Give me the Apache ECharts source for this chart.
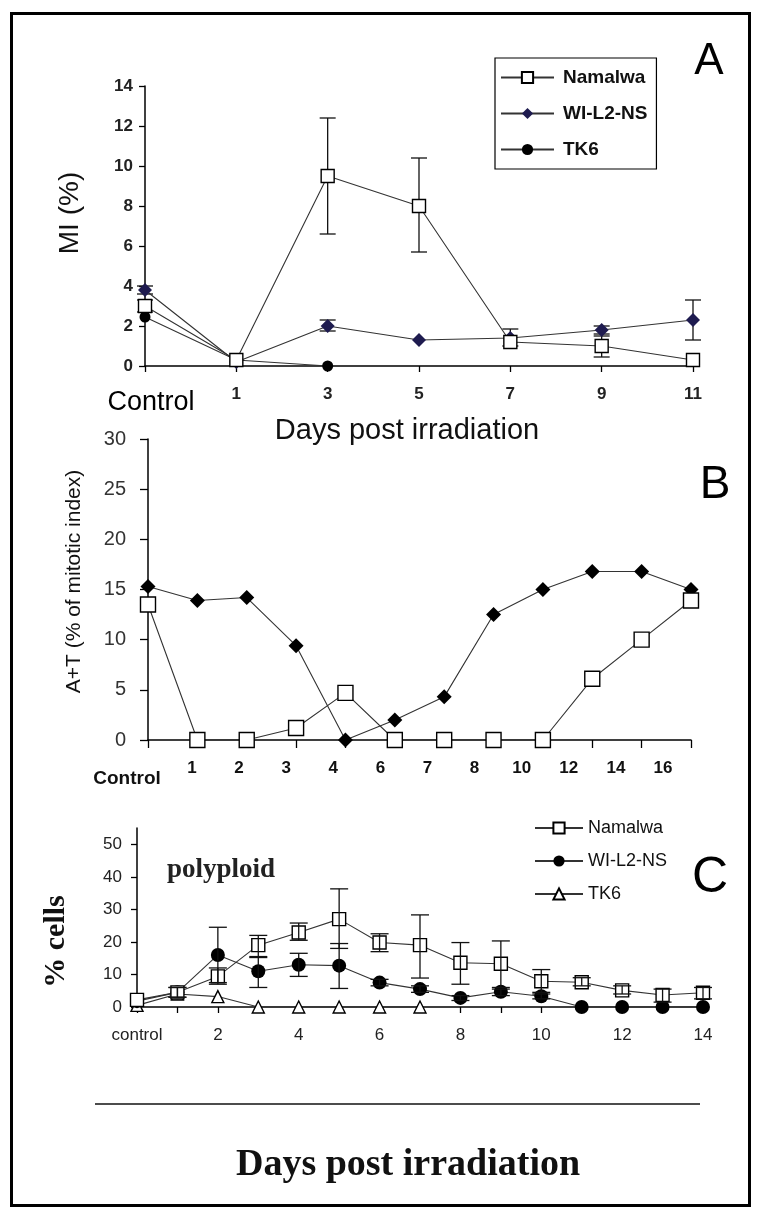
<!DOCTYPE html>
<html>
<head>
<meta charset="utf-8">
<script src="https://cdn.jsdelivr.net/npm/echarts@6/dist/echarts.min.js"></script>
<style>
html,body{margin:0;padding:0;background:#fff;}
#chart{width:761px;height:1219px;}
</style>
</head>
<body>
<div id="chart"></div>
<script>
// ---------- Panel A: mitotic index ----------
const daysA = ['Control', '1', '3', '5', '7', '9', '11'];
const namalwaA = [3.0, 0.3, 9.5, 8.0, 1.2, 1.0, 0.3];
const namalwaA_lo = [2.7, null, 6.6, 5.7, 1.0, 0.45, null];
const namalwaA_hi = [3.3, null, 12.4, 10.4, 1.85, 1.6, null];
const wiA = [3.8, 0.2, 2.0, 1.3, 1.4, 1.8, 2.3];
const wiA_lo = [3.6, null, 1.75, null, null, 1.5, 1.3];
const wiA_hi = [4.0, null, 2.3, null, null, 2.0, 3.3];
const tk6A = [2.45, 0.3, 0.0, null, null, null, null];

// ---------- Panel B: A+T ----------
const daysB = ['Control', '1', '2', '3', '4', '6', '7', '8', '10', '12', '14', '16'];
const wiB = [15.3, 13.9, 14.2, 9.4, 0, 2.0, 4.3, 12.5, 15.0, 16.8, 16.8, 15.0];
const namalwaB = [13.5, 0, 0, 1.2, 4.7, 0, 0, 0, 0, 6.1, 10.0, 13.9];

// ---------- Panel C: polyploid ----------
const daysC = ['control', '1', '2', '3', '4', '5', '6', '7', '8', '9', '10', '11', '12', '13', '14'];
const namalwaC = [2.2, 4.5, 9.4, 19.0, 22.9, 27.0, 19.8, 19.0, 13.6, 13.3, 7.9, 7.6, 5.1, 3.7, 4.4];
const namalwaC_lo = [null, 3.0, 7.0, 15.2, 20.5, 18.0, 17.0, 8.9, 7.0, 6.0, 4.5, 6.5, 4.0, 1.5, 2.5];
const namalwaC_hi = [null, 6.0, 12.0, 22.0, 25.8, 36.3, 22.5, 28.3, 19.8, 20.3, 11.5, 9.0, 6.5, 5.5, 6.0];
const wiC = [1.8, 4.5, 16.0, 11.0, 13.0, 12.7, 7.5, 5.5, 2.8, 4.7, 3.3, 0, 0, 0, 0];
const wiC_lo = [null, 3.0, 7.5, 6.0, 9.4, 5.7, 6.5, 4.5, 2.0, 3.5, 2.5, null, null, null, null];
const wiC_hi = [null, 6.0, 24.5, 15.5, 16.5, 19.5, 8.5, 6.5, 3.5, 5.5, 4.0, null, null, null, null];
const tk6C = [0.5, 4.0, 3.2, 0, 0, 0, 0, 0, null, null, null, null, null, null, null];

const SANS = 'Liberation Sans, Arial, sans-serif';
const SERIF = 'Liberation Serif, Times New Roman, serif';

function errData(lo, hi) {
  const out = [];
  lo.forEach((v, i) => { if (v != null && hi[i] != null) out.push([i, v, hi[i]]); });
  return out;
}
function errSeries(lo, hi, xi, yi, cap, z) {
  return {
    type: 'custom', xAxisIndex: xi, yAxisIndex: yi, z: z, silent: true,
    data: errData(lo, hi),
    encode: { x: 0, y: [1, 2] },
    renderItem: function (params, api) {
      const x = api.value(0);
      const p1 = api.coord([x, api.value(1)]);
      const p2 = api.coord([x, api.value(2)]);
      const st = { stroke: '#111', lineWidth: 1.3 };
      return {
        type: 'group', children: [
          { type: 'line', shape: { x1: p1[0], y1: p1[1], x2: p2[0], y2: p2[1] }, style: st },
          { type: 'line', shape: { x1: p1[0] - cap, y1: p1[1], x2: p1[0] + cap, y2: p1[1] }, style: st },
          { type: 'line', shape: { x1: p2[0] - cap, y1: p2[1], x2: p2[0] + cap, y2: p2[1] }, style: st }
        ]
      };
    }
  };
}
function lineSeries(name, data, xi, yi, symbol, size, fill, z) {
  return {
    name: name, type: 'line', xAxisIndex: xi, yAxisIndex: yi, data: data,
    symbol: symbol, symbolSize: size, showSymbol: true, connectNulls: false, z: z,
    lineStyle: { color: '#333', width: 1.1 },
    itemStyle: { color: fill, borderColor: fill === '#fff' ? '#000' : fill, borderWidth: fill === '#fff' ? 1.4 : 0 }
  };
}

const axisLineStyle = { lineStyle: { color: '#000', width: 1.5 } };
const tickStyle = { show: true, length: 6, lineStyle: { color: '#000', width: 1.3 } };

const chart = echarts.init(document.getElementById('chart'), null, { renderer: 'canvas' });
chart.setOption({
  animation: false,
  backgroundColor: '#fff',
  grid: [
    { left: 145, top: 86, width: 548, height: 280 },
    { left: 148, top: 439, width: 543, height: 301 },
    { left: 192, top: 439, width: 471, height: 301 },
    { left: 137, top: 828, width: 566, height: 179 }
  ],
  xAxis: [
    {
      gridIndex: 0, type: 'category', data: daysA, boundaryGap: false,
      axisLine: axisLineStyle, axisTick: tickStyle,
      axisLabel: {
        interval: 0, margin: 20, fontFamily: SANS, fontSize: 17, fontWeight: 'bold', color: '#222',
        formatter: (v, i) => i === 0 ? '{c|' + v + '}' : v,
        rich: { c: { fontFamily: SANS, fontSize: 27, fontWeight: 'normal', color: '#000', padding: [3, 0, 0, 12] } }
      },
      name: 'Days post irradiation', nameLocation: 'middle', nameGap: 46,
      nameTextStyle: { fontFamily: SANS, fontSize: 29, color: '#111', padding: [0, 24, 0, 0] }
    },
    {
      gridIndex: 1, type: 'category', data: daysB, boundaryGap: false,
      axisLine: axisLineStyle, axisTick: { show: true, length: 8, lineStyle: { color: '#000', width: 1.3 } },
      axisLabel: {
        interval: 0, margin: 20, fontFamily: SANS, fontSize: 17, fontWeight: 'bold', color: '#111',
        formatter: (v, i) => i === 0 ? '{c|' + v + '}' : '',
        rich: { c: { fontFamily: SANS, fontSize: 19, fontWeight: 'bold', color: '#111', padding: [9, 42, 0, 0] } }
      }
    },
    {
      gridIndex: 2, type: 'category', data: daysB.slice(1), boundaryGap: false,
      axisLine: { show: false }, axisTick: { show: false },
      axisLabel: { interval: 0, margin: 20, fontFamily: SANS, fontSize: 17, fontWeight: 'bold', color: '#111' }
    },
    {
      gridIndex: 3, type: 'category', data: daysC, boundaryGap: false,
      axisLine: axisLineStyle, axisTick: { show: true, interval: 0, length: 6, lineStyle: { color: '#000', width: 1.3 } },
      axisLabel: { interval: 1, margin: 20, fontFamily: SANS, fontSize: 17, color: '#222' }
    }
  ],
  yAxis: [
    {
      gridIndex: 0, type: 'value', min: 0, max: 14, interval: 2,
      axisLine: { show: true, lineStyle: { color: '#000', width: 1.5 } }, axisTick: tickStyle, splitLine: { show: false },
      axisLabel: { margin: 12, fontFamily: SANS, fontSize: 17, fontWeight: 'bold', color: '#222' },
      name: 'MI (%)', nameLocation: 'middle', nameGap: 61,
      nameTextStyle: { fontFamily: SANS, fontSize: 28, color: '#111', padding: [0, 0, 0, 26] }
    },
    {
      gridIndex: 1, type: 'value', min: 0, max: 30, interval: 5,
      axisLine: { show: true, lineStyle: { color: '#000', width: 1.5 } },
      axisTick: { show: true, length: 8, lineStyle: { color: '#000', width: 1.3 } }, splitLine: { show: false },
      axisLabel: { margin: 22, fontFamily: SANS, fontSize: 20, color: '#333' },
      name: 'A+T (% of mitotic index)', nameLocation: 'middle', nameGap: 63,
      nameTextStyle: { fontFamily: SANS, fontSize: 21, color: '#111', padding: [0, 0, 0, 16] }
    },
    { gridIndex: 2, type: 'value', min: 0, max: 30, show: false },
    {
      gridIndex: 3, type: 'value', min: 0, max: 55, interval: 10,
      axisLine: { show: true, lineStyle: { color: '#000', width: 1.5 } },
      axisTick: { show: true, length: 6, lineStyle: { color: '#000', width: 1.3 } }, splitLine: { show: false },
      axisLabel: { margin: 15, fontFamily: SANS, fontSize: 17, color: '#222', showMaxLabel: false },
      name: '% cells', nameLocation: 'middle', nameGap: 66,
      nameTextStyle: { fontFamily: SERIF, fontSize: 30, fontWeight: 'bold', color: '#111', padding: [0, 48, 0, 0] }
    }
  ],
  legend: [
    {
      data: ['Namalwa', 'WI-L2-NS', 'TK6'], orient: 'vertical', left: 495, top: 58,
      itemWidth: 53, itemHeight: 14, itemGap: 17, padding: [10, 9, 10, 5],
      borderColor: '#000', borderWidth: 1.2, selectedMode: false,
      textStyle: { fontFamily: SANS, fontSize: 19, fontWeight: 'bold', color: '#111', padding: [0, 0, 0, 4] }
    },
    {
      data: ['Namalwa C', 'WI-L2-NS C', 'TK6 C'], orient: 'vertical', left: 534, top: 819,
      itemWidth: 48, itemHeight: 14, itemGap: 15, padding: 0, selectedMode: false,
      formatter: n => n.replace(/ C$/, ''),
      textStyle: { fontFamily: SANS, fontSize: 18, color: '#111' }
    }
  ],
  series: [
    errSeries(namalwaA_lo, namalwaA_hi, 0, 0, 8, 1),
    errSeries(wiA_lo, wiA_hi, 0, 0, 8, 1),
    lineSeries('TK6', tk6A, 0, 0, 'circle', 11, '#000', 2),
    lineSeries('WI-L2-NS', wiA, 0, 0, 'diamond', 14, '#1e1b4f', 3),
    lineSeries('Namalwa', namalwaA, 0, 0, 'rect', 13, '#fff', 4),

    lineSeries('WI-L2-NS B', wiB, 1, 1, 'diamond', 15, '#000', 2),
    lineSeries('Namalwa B', namalwaB, 1, 1, 'rect', 15, '#fff', 3),

    lineSeries('TK6 C', tk6C, 3, 3, 'triangle', 12, '#fff', 2),
    lineSeries('WI-L2-NS C', wiC, 3, 3, 'circle', 14, '#000', 3),
    lineSeries('Namalwa C', namalwaC, 3, 3, 'rect', 13, '#fff', 4),
    errSeries(namalwaC_lo, namalwaC_hi, 3, 3, 9, 5),
    errSeries(wiC_lo, wiC_hi, 3, 3, 9, 5)
  ],
  graphic: [
    { type: 'rect', shape: { x: 11.5, y: 13.5, width: 738, height: 1192 }, style: { fill: 'none', stroke: '#000', lineWidth: 3 } },
    { type: 'line', shape: { x1: 95, y1: 1104, x2: 700, y2: 1104 }, style: { stroke: '#111', lineWidth: 1.5 } },
    { type: 'text', x: 408, y: 1165, style: { text: 'Days post irradiation', font: 'bold 38px ' + SERIF, fill: '#111', textAlign: 'center', textVerticalAlign: 'middle' } },
    { type: 'text', x: 167, y: 870, style: { text: 'polyploid', font: 'bold 27px ' + SERIF, fill: '#222', textAlign: 'left', textVerticalAlign: 'middle' } },
    { type: 'text', x: 709, y: 62, style: { text: 'A', font: '44px ' + SANS, fill: '#000', textAlign: 'center', textVerticalAlign: 'middle' } },
    { type: 'text', x: 715, y: 485, style: { text: 'B', font: '46px ' + SANS, fill: '#000', textAlign: 'center', textVerticalAlign: 'middle' } },
    { type: 'text', x: 710, y: 878, style: { text: 'C', font: '50px ' + SANS, fill: '#000', textAlign: 'center', textVerticalAlign: 'middle' } }
  ]
});
</script>
</body>
</html>
